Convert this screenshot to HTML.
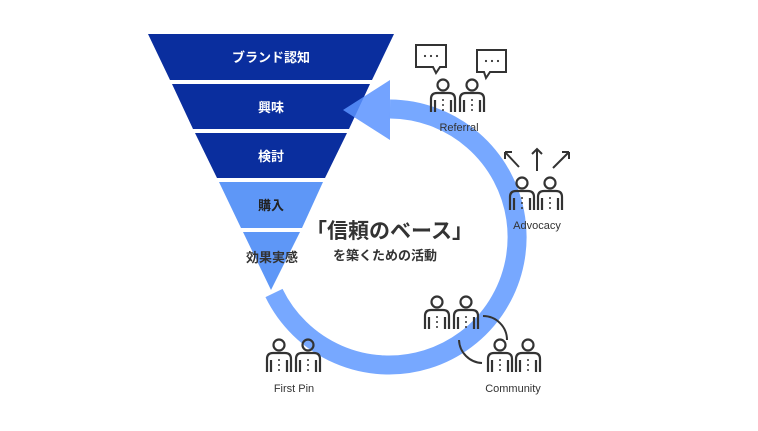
<!DOCTYPE html>
<html><head><meta charset="utf-8"><style>
body{margin:0;background:#fff;width:758px;height:426px;overflow:hidden}
svg text{font-family:"Liberation Sans","Noto Sans CJK JP",sans-serif}
</style></head><body>
<svg width="758" height="426" viewBox="0 0 758 426" xmlns="http://www.w3.org/2000/svg">
<defs>
<g id="p" fill="none" stroke="#333" stroke-width="2.2">
<circle cx="0" cy="0" r="5.5"/>
<path d="M-12,27 V14 Q-12,8 -6,8 H6 Q12,8 12,14 V27"/>
<path d="M-8,15 V27 M8,15 V27"/>
<circle cx="0" cy="15" r="1" fill="#333" stroke="none"/>
<circle cx="0" cy="20" r="1" fill="#333" stroke="none"/>
<circle cx="0" cy="25" r="1" fill="#333" stroke="none"/>
</g>
</defs>
<!-- funnel -->
<polygon points="148,34 394,34 372,80 170,80" fill="#0a2e9e"/>
<polygon points="172,84 370,84 349,129 193,129" fill="#0a2e9e"/>
<polygon points="195,133 347,133 325,178 217,178" fill="#0a2e9e"/>
<polygon points="219,182 323,182 302,228 241,228" fill="#5e97f7"/>
<polygon points="243,232 300,232 271,290" fill="#5e97f7"/>
<g fill="#fff" font-size="13" font-weight="bold" text-anchor="middle">
<text x="271" y="62">ブランド認知</text>
<text x="271" y="112">興味</text>
<text x="271" y="161">検討</text>
</g>
<text x="271" y="210" font-size="13" font-weight="bold" text-anchor="middle" fill="#222">購入</text>
<text x="272" y="262" font-size="13" font-weight="bold" text-anchor="middle" fill="#333">効果実感</text>
<!-- cycle -->
<path d="M390,109 A128,128 0 1 1 274,293" fill="none" stroke="#77a8ff" stroke-width="19"/>
<polygon points="343,110 390,80 390,140" fill="#5b93ff" fill-opacity="0.85"/>
<text x="306" y="238" font-size="21" font-weight="bold" fill="#333">「信頼のベース」</text>
<text x="333" y="260" font-size="13" font-weight="bold" fill="#333">を築くための活動</text>
<!-- Referral -->
<g fill="none" stroke="#333" stroke-width="2">
<path d="M416,45 H446 V67 H440 L436,73 L433,67 H416 Z"/>
<path d="M477,50 H506 V72 H490 L486,78 L484,72 H477 Z"/>
</g>
<g fill="#333"><circle cx="425" cy="56" r="1.1"/><circle cx="431" cy="56" r="1.1"/><circle cx="437" cy="56" r="1.1"/>
<circle cx="486" cy="61" r="1.1"/><circle cx="492" cy="61" r="1.1"/><circle cx="498" cy="61" r="1.1"/></g>
<use href="#p" x="443" y="85"/><use href="#p" x="472" y="85"/>
<text x="459" y="131" font-size="11" text-anchor="middle" fill="#333">Referral</text>
<!-- Advocacy -->
<g fill="none" stroke="#333" stroke-width="2">
<path d="M519,167 L505,152 M505,152 V159 M505,152 H512"/>
<path d="M537,171 V149 M532,154 L537,149 L542,154"/>
<path d="M553,168 L569,152 M569,152 H562 M569,152 V159"/>
</g>
<use href="#p" x="522" y="183"/><use href="#p" x="550" y="183"/>
<text x="537" y="229" font-size="11" text-anchor="middle" fill="#333">Advocacy</text>
<!-- Community -->
<use href="#p" x="437" y="302"/><use href="#p" x="466" y="302"/>
<use href="#p" x="500" y="345"/><use href="#p" x="528" y="345"/>
<path d="M483,316 A24,24 0 0 1 507,340" fill="none" stroke="#333" stroke-width="2"/>
<path d="M459,340 A24,24 0 0 0 482,363" fill="none" stroke="#333" stroke-width="2"/>
<text x="513" y="392" font-size="11" text-anchor="middle" fill="#333">Community</text>
<!-- First Pin -->
<use href="#p" x="279" y="345"/><use href="#p" x="308" y="345"/>
<text x="294" y="392" font-size="11" text-anchor="middle" fill="#333">First Pin</text>
</svg>
</body></html>
